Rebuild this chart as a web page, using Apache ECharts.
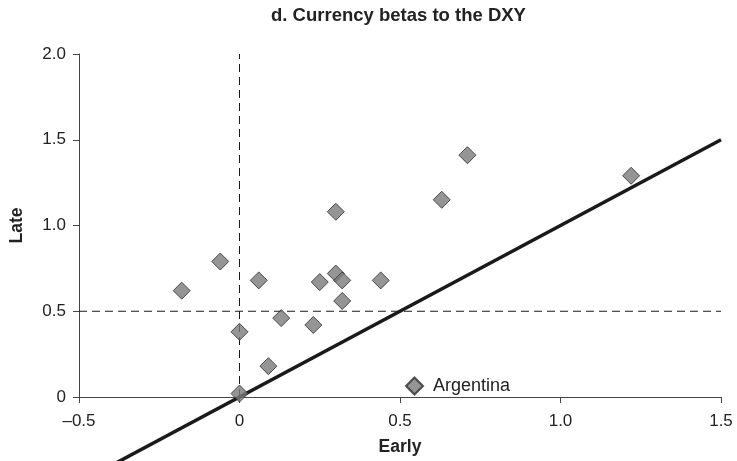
<!DOCTYPE html>
<html>
<head>
<meta charset="utf-8">
<script src="https://cdn.jsdelivr.net/npm/echarts@6/dist/echarts.min.js"></script>
<style>
  html, body { margin: 0; padding: 0; background: #fff; }
  #chart { width: 737px; height: 461px; }
</style>
</head>
<body>
<div id="chart"></div>
<script>
// Currency betas to the DXY: early vs late period
const early = [-0.18, -0.06, 0.06, 0.00, 0.00, 0.09, 0.13, 0.23, 0.25, 0.30, 0.32, 0.32, 0.30, 0.44, 0.63, 0.71, 1.22];
const late  = [ 0.62,  0.79, 0.68, 0.38, 0.02, 0.18, 0.46, 0.42, 0.67, 0.72, 0.68, 0.56, 1.08, 0.68, 1.15, 1.41, 1.29];

// 45-degree line (late = early)
const diagX = [-0.4, 1.5];
// reference lines at zero early beta and 0.5 late beta
const vRefX = 0, vRefY = [0, 2];
const hRefY = 0.5, hRefX = [-0.5, 1.5];

const xTicks = { min: -0.5, max: 1.5, step: 0.5 };
const yTicks = { min: 0, max: 2, step: 0.5 };

const FONT = "'Liberation Sans', Arial, Helvetica, sans-serif";

function fmt(v) {
  if (Math.abs(v) < 1e-9) return '0';
  const s = Math.abs(v).toFixed(1);
  return v < 0 ? '\u2013' + s : s;
}

const chart = echarts.init(document.getElementById('chart'), null, { renderer: 'canvas' });

chart.setOption({
  animation: false,
  backgroundColor: '#ffffff',
  textStyle: { fontFamily: FONT },
  title: {
    text: 'd. Currency betas to the DXY',
    left: 271,
    top: 6,
    padding: 0,
    textStyle: { fontFamily: FONT, fontSize: 18.5, fontWeight: 'bold', color: '#222' }
  },
  legend: {
    data: ['Argentina'],
    left: 405,
    top: 376.5,
    padding: 0,
    icon: 'diamond',
    itemWidth: 17,
    itemHeight: 17,
    textStyle: { fontFamily: FONT, fontSize: 18, color: '#222', padding: [0, 0, 0, 5] }
  },
  grid: { left: 77, right: 16, top: 54, bottom: 62 },
  xAxis: {
    type: 'value',
    min: xTicks.min, max: xTicks.max, interval: xTicks.step,
    name: 'Early',
    nameLocation: 'middle',
    nameGap: 41,
    nameTextStyle: { fontFamily: FONT, fontSize: 17.5, fontWeight: 'bold', color: '#222' },
    axisLine: { onZero: false, lineStyle: { color: '#444', width: 1 } },
    axisTick: { inside: false, length: 6, lineStyle: { color: '#444' } },
    axisLabel: { fontFamily: FONT, fontSize: 17, color: '#222', margin: 16, formatter: fmt },
    splitLine: { show: false }
  },
  yAxis: {
    type: 'value',
    min: yTicks.min, max: yTicks.max, interval: yTicks.step,
    name: 'Late',
    nameLocation: 'middle',
    nameGap: 53,
    nameTextStyle: { fontFamily: FONT, fontSize: 17.5, fontWeight: 'bold', color: '#222' },
    axisLine: { show: true, onZero: false, lineStyle: { color: '#444', width: 1 } },
    axisTick: { show: true, inside: false, length: 6, lineStyle: { color: '#444' } },
    axisLabel: { fontFamily: FONT, fontSize: 17, color: '#222', margin: 13, formatter: fmt },
    splitLine: { show: false }
  },
  series: [
    {
      name: 'zero-early',
      type: 'line',
      data: vRefY.map(y => [vRefX, y]),
      symbol: 'none',
      silent: true,
      lineStyle: { color: '#1a1a1a', width: 1, type: [8, 5] },
      z: 1
    },
    {
      name: 'half-late',
      type: 'line',
      data: hRefX.map(x => [x, hRefY]),
      symbol: 'none',
      silent: true,
      lineStyle: { color: '#1a1a1a', width: 1, type: [8, 5] },
      z: 1
    },
    {
      name: 'diagonal',
      type: 'line',
      data: diagX.map(x => [x, x]),
      symbol: 'none',
      silent: true,
      clip: false,
      lineStyle: { color: '#1a1a1a', width: 3.5 },
      z: 2
    },
    {
      name: 'Argentina',
      type: 'scatter',
      data: early.map((x, i) => [x, late[i]]),
      symbol: 'diamond',
      symbolSize: 17,
      itemStyle: { color: '#7a7a7a', borderColor: '#2a2a2a', borderWidth: 1 },
      z: 3
    }
  ]
});
</script>
</body>
</html>
